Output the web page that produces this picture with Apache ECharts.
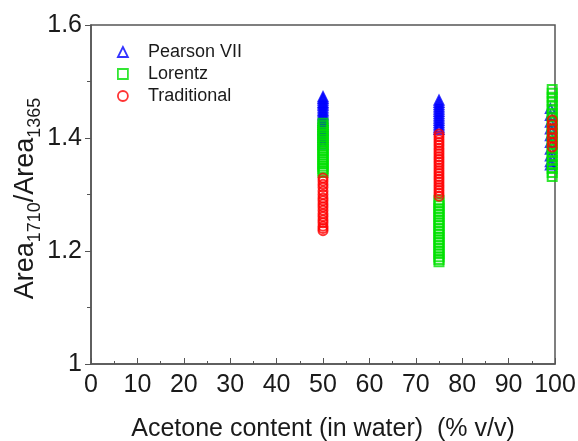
<!DOCTYPE html>
<html>
<head>
<meta charset="utf-8">
<script src="https://cdn.jsdelivr.net/npm/echarts@6/dist/echarts.min.js"></script>
<style>
  html, body { margin: 0; padding: 0; background: #fff; }
  #chart { width: 578px; height: 441px; }
</style>
</head>
<body>
<div id="chart"></div>
<script>
// Acetone content (% v/v) of each sample group, per fitting model
const pearsonX = [50, 75, 99.0];
const lorentzX = [50, 75, 99.4];
const traditionalX = [50, 75, 99.4];

// Area1710/Area1365 ratios, one list per acetone content
const pearson50 = [1.473, 1.470, 1.467, 1.463, 1.460, 1.457, 1.453, 1.449, 1.446, 1.442, 1.439, 1.435,
  1.431, 1.428, 1.424, 1.420, 1.416, 1.413, 1.409, 1.405, 1.401, 1.397, 1.393, 1.389];
const pearson75 = [1.467, 1.463, 1.459, 1.455, 1.451, 1.447, 1.443, 1.439, 1.435, 1.431, 1.427, 1.423,
  1.419, 1.415];
const pearson100 = [1.452, 1.440, 1.428, 1.416, 1.404, 1.392, 1.380, 1.368, 1.358, 1.352];

const lorentz50 = [1.426, 1.422, 1.418, 1.414, 1.410, 1.406, 1.402, 1.398, 1.394, 1.390, 1.386, 1.382,
  1.378, 1.374, 1.370, 1.366, 1.362, 1.358, 1.354, 1.350, 1.346, 1.342, 1.339];
const lorentz75 = [1.290, 1.285, 1.280, 1.275, 1.270, 1.265, 1.260, 1.255, 1.250, 1.245, 1.240, 1.235,
  1.230, 1.225, 1.220, 1.215, 1.210, 1.205, 1.200, 1.195, 1.190, 1.185, 1.181];
const lorentz100 = [1.486, 1.479, 1.472, 1.465, 1.458, 1.451, 1.444, 1.437, 1.430, 1.423, 1.416, 1.409,
  1.402, 1.395, 1.388, 1.381, 1.374, 1.367, 1.360, 1.353, 1.346, 1.339, 1.332];

const traditional50 = [1.329, 1.324, 1.318, 1.313, 1.306, 1.300, 1.294, 1.289, 1.283, 1.278, 1.272, 1.266,
  1.261, 1.255, 1.250, 1.244, 1.240, 1.236];
const traditional75 = [1.407, 1.402, 1.397, 1.392, 1.387, 1.382, 1.377, 1.372, 1.367, 1.362, 1.357, 1.352,
  1.347, 1.342, 1.337, 1.332, 1.327, 1.322, 1.317, 1.312, 1.307, 1.302, 1.297];
const traditional100 = [1.432, 1.424, 1.416, 1.408, 1.400, 1.392, 1.384];

const seriesNames = ['Pearson VII', 'Lorentz', 'Traditional'];
const xTicks = [0, 10, 20, 30, 40, 50, 60, 70, 80, 90, 100];
const yTicks = [1, 1.2, 1.4, 1.6];

function pairs(xs, groups) {
  const out = [];
  groups.forEach((vals, i) => vals.forEach(v => out.push([xs[i], v])));
  return out;
}

const FONT = 'Liberation Sans, Arial, sans-serif';
const AXIS = '#555';
const TEXT = '#1a1a1a';
const BLUE = '#0000ff', GREEN = '#00e000', RED = '#ff0000';

const chart = echarts.init(document.getElementById('chart'), null, { renderer: 'canvas' });

function scatter(name, symbol, color, data) {
  return {
    name, type: 'scatter', symbol, symbolSize: 9,
    itemStyle: { color: 'rgba(255,255,255,0)', borderColor: color, borderWidth: 2 },
    emphasis: { disabled: true },
    data
  };
}

chart.setOption({
  animation: false,
  backgroundColor: '#fff',
  textStyle: { fontFamily: FONT },
  grid: {
    left: 91, right: 23, top: 25, bottom: 77, outerBoundsMode: 'none',
    show: true, borderColor: AXIS, borderWidth: 1.5
  },
  legend: {
    orient: 'vertical', left: 112, top: 38, itemGap: 4, itemWidth: 10, itemHeight: 10,
    textStyle: { fontSize: 18, color: TEXT, fontFamily: FONT, padding: [0, 0, 0, 15] },
    data: [
      { name: seriesNames[0], icon: 'triangle', itemStyle: { color: '#fff', borderColor: BLUE, borderWidth: 1.8 } },
      { name: seriesNames[1], icon: 'rect', itemStyle: { color: '#fff', borderColor: GREEN, borderWidth: 1.8 } },
      { name: seriesNames[2], icon: 'circle', itemStyle: { color: '#fff', borderColor: RED, borderWidth: 1.8 } }
    ]
  },
  xAxis: {
    type: 'value', min: xTicks[0], max: xTicks[xTicks.length - 1], interval: 10,
    name: 'Acetone content (in water)  (% v/v)', nameLocation: 'middle', nameGap: 53,
    nameTextStyle: { fontSize: 25, color: TEXT, fontFamily: FONT },
    axisLine: { lineStyle: { color: AXIS, width: 1.5 } },
    axisTick: { inside: true, length: 6, lineStyle: { color: AXIS } },
    minorTick: { show: true, splitNumber: 2, length: 3, lineStyle: { color: AXIS } },
    axisLabel: { fontSize: 25, color: TEXT, margin: 9, fontFamily: FONT },
    splitLine: { show: false }
  },
  yAxis: {
    type: 'value', min: yTicks[0], max: yTicks[yTicks.length - 1], interval: 0.2,
    name: '{a|Area}{s|1710}{a|/Area}{s|1365}', nameLocation: 'middle', nameGap: 52, nameRotate: 90,
    nameMoveOverlap: false,
    nameTextStyle: {
      padding: [0, 8, 0, 0],
      rich: {
        a: { fontSize: 27, lineHeight: 27, color: TEXT, fontFamily: FONT, verticalAlign: 'top' },
        s: { fontSize: 18, lineHeight: 18, color: TEXT, fontFamily: FONT, verticalAlign: 'top', padding: [14, 0, 0, 0] }
      }
    },
    axisLine: { lineStyle: { color: AXIS, width: 1.5 } },
    axisTick: { inside: false, length: 6, lineStyle: { color: AXIS } },
    minorTick: { show: true, splitNumber: 2, length: 4, lineStyle: { color: AXIS } },
    axisLabel: { fontSize: 25, color: TEXT, margin: 9, fontFamily: FONT },
    splitLine: { show: false }
  },
  series: [
    scatter(seriesNames[0], 'triangle', BLUE, pairs(pearsonX, [pearson50, pearson75, pearson100])),
    scatter(seriesNames[1], 'rect', GREEN, pairs(lorentzX, [lorentz50, lorentz75, lorentz100])),
    scatter(seriesNames[2], 'circle', RED, pairs(traditionalX, [traditional50, traditional75, traditional100]))
  ]
});
</script>
</body>
</html>
